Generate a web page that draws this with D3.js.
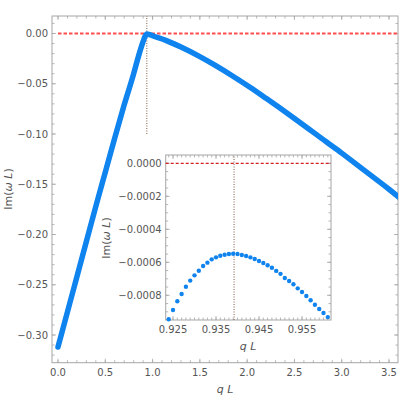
<!DOCTYPE html>
<html><head><meta charset="utf-8">
<script src="https://cdn.jsdelivr.net/npm/d3@7"></script>
<style>
html,body{margin:0;padding:0;background:#fff;}
svg{display:block;font-family:"DejaVu Sans",sans-serif;}
</style></head>
<body><svg id="c" width="415" height="395"></svg>
<script>
// ---- data ----
const mainQ = [0.0, 0.1, 0.2, 0.3, 0.4, 0.5, 0.6, 0.7, 0.8, 0.85, 0.9, 0.92, 0.939, 0.97, 1.0, 1.14, 1.3, 1.48, 1.65, 1.85, 2.03, 2.2, 2.5, 2.84, 3.0, 3.25, 3.5, 3.62];
const mainIm = [-0.312, -0.277, -0.242, -0.207, -0.172, -0.138, -0.104, -0.071, -0.040, -0.023, -0.008, -0.003, -0.0005, -0.0011, -0.0022, -0.0068, -0.0135, -0.022, -0.031, -0.0425, -0.0535, -0.0645, -0.0845, -0.108, -0.119, -0.137, -0.155, -0.164];
const insetQ = [0.924,0.925,0.926,0.927,0.928,0.929,0.930,0.931,0.932,0.933,0.934,0.935,0.936,0.937,0.938,0.939,0.940,0.941,0.942,0.943,0.944,0.945,0.946,0.947,0.948,0.949,0.950,0.951,0.952,0.953,0.954,0.955,0.956,0.957,0.958,0.959,0.960,0.961];
const insetIm = [-0.000945,-0.000889,-0.000836,-0.000792,-0.000748,-0.000711,-0.000679,-0.000651,-0.000622,-0.000602,-0.000582,-0.000570,-0.000560,-0.000554,-0.000550,-0.000548,-0.000550,-0.000556,-0.000562,-0.000570,-0.000580,-0.000592,-0.000604,-0.000618,-0.000633,-0.000652,-0.000670,-0.000695,-0.000713,-0.000733,-0.000758,-0.000780,-0.000804,-0.000830,-0.000857,-0.000883,-0.000907,-0.000932];
const peakQ = 0.9392;
const mainXTicks = [0, 0.5, 1.0, 1.5, 2.0, 2.5, 3.0, 3.5];
const mainYTicks = [0, -0.05, -0.10, -0.15, -0.20, -0.25, -0.30];
const insetXTicks = [0.925, 0.935, 0.945, 0.955];
const insetYTicks = [0, -0.0002, -0.0004, -0.0006, -0.0008];

const svg = d3.select("#c");
const BLUE = "#0f83ee", FRAME = "#a6a6a6", LABEL = "#555";

function frame(g, x, y, xMaj, xMin, yMaj, yMin, xFmt, yFmt, majL, minL) {
  const [x0, x1] = x.range(), [y0, y1] = y.range(); // y0 bottom, y1 top
  g.append("rect").attr("x", x0).attr("y", y1).attr("width", x1 - x0).attr("height", y0 - y1)
    .attr("fill", "none").attr("stroke", FRAME).attr("stroke-width", 1);
  const t = g.append("g").attr("stroke", FRAME).attr("stroke-width", 0.8);
  const addX = (v, L) => {
    const px = x(v);
    t.append("line").attr("x1", px).attr("x2", px).attr("y1", y0).attr("y2", y0 - L);
    t.append("line").attr("x1", px).attr("x2", px).attr("y1", y1).attr("y2", y1 + L);
  };
  const addY = (v, L) => {
    const py = y(v);
    t.append("line").attr("y1", py).attr("y2", py).attr("x1", x0).attr("x2", x0 + L);
    t.append("line").attr("y1", py).attr("y2", py).attr("x1", x1).attr("x2", x1 - L);
  };
  xMin.forEach(v => addX(v, minL)); xMaj.forEach(v => addX(v, majL));
  yMin.forEach(v => addY(v, minL)); yMaj.forEach(v => addY(v, majL));
  const tl = g.append("g").attr("fill", LABEL).attr("font-size", 10);
  xMaj.forEach(v => tl.append("text").attr("x", x(v)).attr("y", y0 + 13).attr("text-anchor", "middle").text(xFmt(v)));
  yMaj.forEach(v => tl.append("text").attr("x", x0 - 4).attr("y", y(v) + 3.6).attr("text-anchor", "end").text(yFmt(v)));
}
function rangeStep(a, b, s) { const out = []; const n = Math.round((b - a) / s); for (let i = 0; i <= n; i++) out.push(a + i * s); return out; }
const minus = s => s.replace("-", "\u2212");

// ---- main plot ----
const x = d3.scaleLinear().domain([-0.0634, 3.5951]).range([52, 398]);
const y = d3.scaleLinear().domain([-0.32756, 0.01741]).range([362.7, 16]);
const gm = svg.append("g");
svg.append("clipPath").attr("id", "mclip").append("rect").attr("x", 52).attr("y", 16).attr("width", 346).attr("height", 346.7);

frame(gm, x, y, mainXTicks, rangeStep(0, 3.5, 0.1).filter(v => v < 3.6), mainYTicks, rangeStep(-0.32, 0.01, 0.01),
  v => v.toFixed(1), v => minus(v.toFixed(2)), 4, 2.5);

const md = mainQ.map((q, i) => [q, mainIm[i]]);
gm.append("line").attr("x1", x(0)).attr("x2", x.range()[1]).attr("y1", y(0)).attr("y2", y(0))
  .attr("stroke", "#ff4d4d").attr("stroke-width", 1.8).attr("stroke-dasharray", "3.5,2");
gm.append("line").attr("x1", x(peakQ)).attr("x2", x(peakQ)).attr("y1", y(-0.10)).attr("y2", y.range()[1])
  .attr("stroke", "#7b5b45").attr("stroke-width", 1).attr("stroke-dasharray", "1,1.5");
gm.append("path").attr("clip-path", "url(#mclip)").datum(md)
  .attr("d", d3.line().x(d => x(d[0])).y(d => y(d[1])).curve(d3.curveMonotoneX))
  .attr("fill", "none").attr("stroke", BLUE).attr("stroke-width", 5.5).attr("stroke-linecap", "round").attr("stroke-linejoin", "round");

gm.append("text").attr("x", 225).attr("y", 393).attr("text-anchor", "middle").attr("fill", LABEL).attr("font-size", 11)
  .attr("font-style", "italic").text("q L");
const yl = gm.append("text").attr("transform", "translate(12,189) rotate(-90)").attr("text-anchor", "middle")
  .attr("fill", LABEL).attr("font-size", 11);
yl.append("tspan").text("Im(");
yl.append("tspan").attr("font-style", "italic").text("ω L");
yl.append("tspan").text(")");

// ---- inset ----
const xi = d3.scaleLinear().domain([0.92330, 0.96174]).range([165.7, 331]);
const yi = d3.scaleLinear().domain([-0.0009497, 0.0000503]).range([320, 155]);
const gi = svg.append("g");
gi.append("rect").attr("x", 165.7).attr("y", 155).attr("width", 165.3).attr("height", 165).attr("fill", "#fff");
frame(gi, xi, yi, insetXTicks, rangeStep(0.924, 0.961, 0.001), insetYTicks, rangeStep(-0.0009, 0.0, 0.00005),
  v => v.toFixed(3), v => minus(v.toFixed(4)), 4, 2.5);
gi.append("line").attr("x1", xi.range()[0]).attr("x2", xi.range()[1]).attr("y1", yi(0)).attr("y2", yi(0))
  .attr("stroke", "#d42020").attr("stroke-width", 1.2).attr("stroke-dasharray", "3,2");
gi.append("line").attr("x1", xi(peakQ)).attr("x2", xi(peakQ)).attr("y1", yi.range()[0]).attr("y2", yi.range()[1])
  .attr("stroke", "#7b5b45").attr("stroke-width", 1).attr("stroke-dasharray", "1,1.5");
svg.append("clipPath").attr("id", "iclip").append("rect").attr("x", 163).attr("y", 152).attr("width", 171).attr("height", 170);
gi.append("g").attr("clip-path", "url(#iclip)").selectAll("circle").data(insetQ.map((q, i) => [q, insetIm[i]])).join("circle")
  .attr("cx", d => xi(d[0])).attr("cy", d => yi(d[1])).attr("r", 2.2).attr("fill", BLUE);
gi.append("text").attr("x", 248).attr("y", 350).attr("text-anchor", "middle").attr("fill", LABEL).attr("font-size", 11)
  .attr("font-style", "italic").text("q L");
const yl2 = gi.append("text").attr("transform", "translate(110,238) rotate(-90)").attr("text-anchor", "middle")
  .attr("fill", LABEL).attr("font-size", 11);
yl2.append("tspan").text("Im(");
yl2.append("tspan").attr("font-style", "italic").text("ω L");
yl2.append("tspan").text(")");
</script></body></html>
